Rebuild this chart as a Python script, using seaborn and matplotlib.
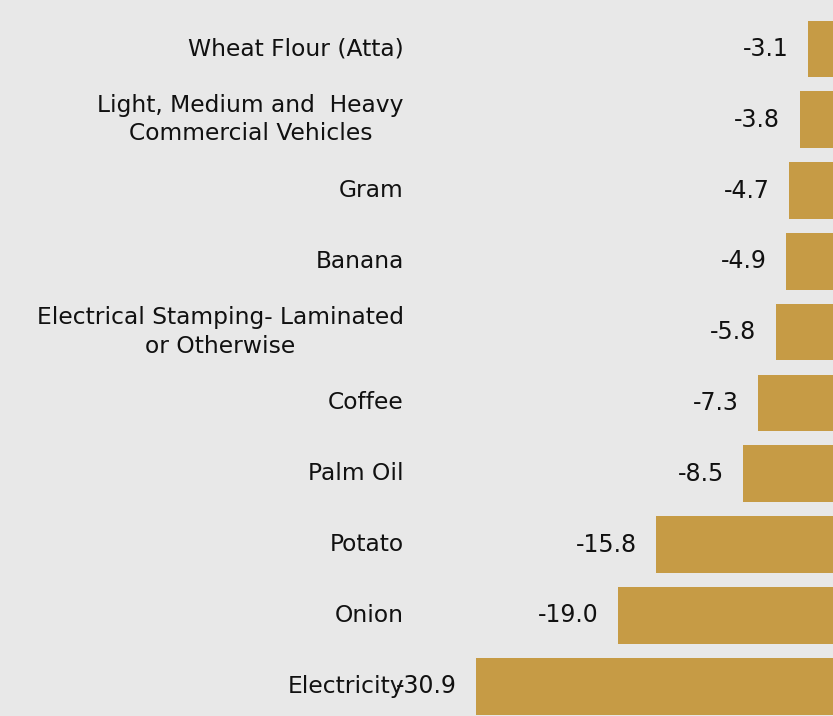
import matplotlib
matplotlib.use("Agg")
import matplotlib.pyplot as plt
import seaborn as sns
import pandas as pd

# datos
productos = [
    "Wheat Flour (Atta)",
    "Light, Medium and  Heavy\nCommercial Vehicles",
    "Gram",
    "Banana",
    "Electrical Stamping- Laminated\nor Otherwise",
    "Coffee",
    "Palm Oil",
    "Potato",
    "Onion",
    "Electricity",
]
cambio = [-3.1, -3.8, -4.7, -4.9, -5.8, -7.3, -8.5, -15.8, -19.0, -30.9]

df = pd.DataFrame({"Producto": productos, "Cambio": cambio})

sns.set_theme(style="white")
plt.rcParams["font.family"] = ["DejaVu Sans"]

fondo = "#e8e8e8"
fig = plt.figure(figsize=(8.33, 7.16), dpi=100, facecolor=fondo)
ax = fig.add_axes([415 / 833, 0, 1 - 415 / 833, 1])
ax.set_facecolor(fondo)

sns.barplot(data=df, x="Cambio", y="Producto", orient="h", color="#c69b45",
            saturation=1, width=0.8, linewidth=0, ax=ax)

ax.bar_label(ax.containers[0], fmt="%.1f", padding=14, fontsize=17, color="#111111")

ax.set_xlim(-36.0, -1.0)
ax.set_ylim(9.42, -0.69)
ax.set_xlabel("")
ax.set_ylabel("")
ax.set_xticks([])
ax.tick_params(axis="y", length=0, pad=8, labelsize=16.8, labelcolor="#111111")
for lbl in ax.get_yticklabels():
    lbl.set_multialignment("center")
    lbl.set_linespacing(1.3)
    lbl.set_va("center")
sns.despine(ax=ax, left=True, bottom=True, top=True, right=True)

fig.savefig("out.png", dpi=100, facecolor=fondo)
